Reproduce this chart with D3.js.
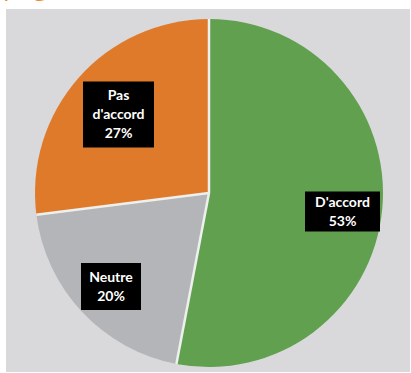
<!DOCTYPE html>
<html>
<head>
<meta charset="utf-8">
<script src="https://cdn.jsdelivr.net/npm/d3@7"></script>
<style>
  html, body { margin: 0; padding: 0; background: #ffffff; }
  svg { display: block; }
</style>
</head>
<body>
<svg id="chart" width="411" height="373"></svg>
<script>
// Survey answers (share of respondents, %)
const categories = ["D'accord", "Neutre", "Pas d'accord"];
const shares = [53, 20, 27];
const labelLines = [["D'accord", "53%"], ["Neutre", "20%"], ["Pas", "d'accord", "27%"]];
const sliceColors = ["#60a04f", "#b4b5b9", "#e07a2b"];

const W = 411, H = 373;
const cx = 209, cy = 193, R = 174;

const svg = d3.select("#chart");

// Heading text cut off at the top edge
svg.append("text")
  .attr("x", 3).attr("y", -5)
  .attr("font-family", "Open Sans, sans-serif")
  .attr("font-size", 26)
  .attr("fill", "#f08a2c")
  .text("page");

// Light grey panel
svg.append("rect")
  .attr("x", 6).attr("y", 9)
  .attr("width", 404).attr("height", 363)
  .attr("fill", "#d9d9db");

const data = categories.map((c, i) => ({ name: c, value: shares[i], lines: labelLines[i], color: sliceColors[i] }));

const pie = d3.pie().value(d => d.value).sort(null);
const arcs = pie(data);
const arc = d3.arc().innerRadius(0).outerRadius(R);

const g = svg.append("g").attr("transform", `translate(${cx},${cy})`);

g.selectAll("path.slice")
  .data(arcs)
  .enter().append("path")
  .attr("class", "slice")
  .attr("d", arc)
  .attr("fill", d => d.data.color);

// Thin light separators between slices
g.selectAll("line.sep")
  .data(arcs)
  .enter().append("line")
  .attr("class", "sep")
  .attr("x1", 0).attr("y1", 0)
  .attr("x2", d => R * Math.sin(d.startAngle))
  .attr("y2", d => -R * Math.cos(d.startAngle))
  .attr("stroke", "#eef0ee")
  .attr("stroke-width", 2.5);

// Label boxes: black background, white bold text
const labelPos = [
  { x: 342.5, y: 211.5, w: 75, h: 40 },
  { x: 111, y: 286.5, w: 60, h: 47 },
  { x: 118.5, y: 114.5, w: 71, h: 66 }
];
const lineH = 19;

const labels = svg.selectAll("g.label")
  .data(arcs)
  .enter().append("g")
  .attr("class", "label")
  .attr("transform", (d, i) => `translate(${labelPos[i].x},${labelPos[i].y})`);

labels.append("rect")
  .attr("x", (d, i) => -labelPos[i].w / 2)
  .attr("y", (d, i) => -labelPos[i].h / 2)
  .attr("width", (d, i) => labelPos[i].w)
  .attr("height", (d, i) => labelPos[i].h)
  .attr("fill", "#000000");

labels.each(function(d) {
  const lines = d.data.lines;
  const t = d3.select(this).append("text")
    .attr("text-anchor", "middle")
    .attr("font-family", "Lato, sans-serif")
    .attr("font-weight", "bold")
    .attr("font-size", 14)
    .attr("fill", "#ffffff");
  lines.forEach((s, k) => {
    t.append("tspan")
      .attr("x", 0)
      .attr("y", (k - (lines.length - 1) / 2) * lineH)
      .attr("dy", "0.35em")
      .text(s);
  });
});
</script>
</body>
</html>
